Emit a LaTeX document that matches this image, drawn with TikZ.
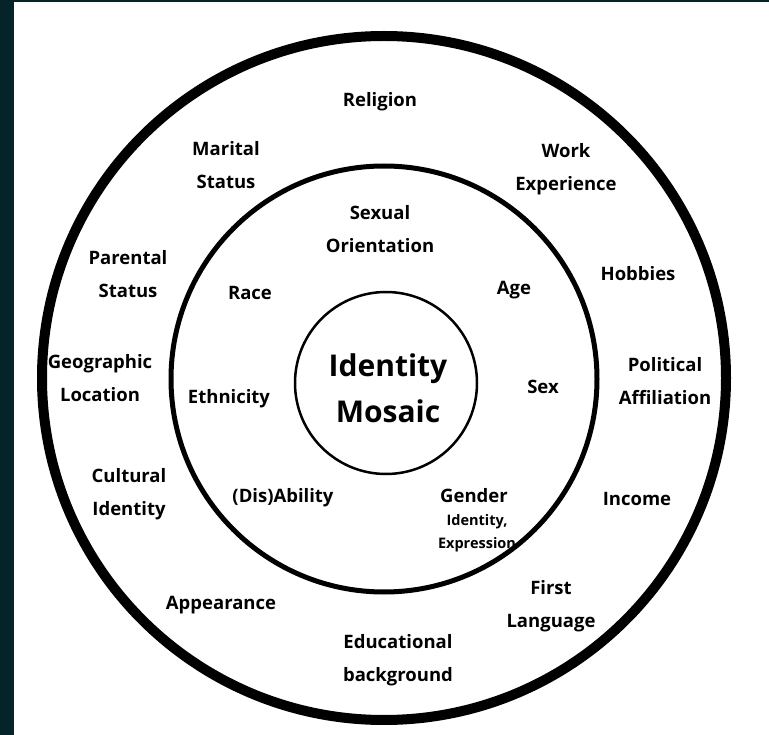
\documentclass[tikz,border=0pt]{standalone}
\usepackage{fontspec}
\setmainfont{Open Sans}
\definecolor{strip}{RGB}{4,36,42}
\begin{document}
\begin{tikzpicture}[x=1pt,y=-1pt,
  lbl/.style={align=center,font=\fontsize{18.5}{33}\selectfont\bfseries,inner sep=0pt},
  sml/.style={align=center,font=\fontsize{14.5}{23}\selectfont\bfseries,inner sep=0pt},
  big/.style={align=center,font=\fontsize{30}{46}\selectfont\bfseries,inner sep=0pt}]
\useasboundingbox (0,0) rectangle (769,735);
\fill[white] (0,0) rectangle (769,735);
\fill[strip] (0,0) rectangle (14,735);
\fill[strip] (0,0) rectangle (769,2);
% circles
\node[circle,draw,line width=10pt,minimum size=684pt,inner sep=0pt] (outer) at (384,378) {};
\node[circle,draw,line width=5pt,minimum size=426pt,inner sep=0pt] (middle) at (384,379) {};
\node[circle,draw,line width=2.5pt,minimum size=182pt,inner sep=0pt] (inner) at (386,383) {};
% centre
\node[big] (mosaic) at (388,388) {Identity\\Mosaic};
% middle ring
\node[lbl] (sexual) at (380,229) {Sexual\\Orientation};
\node[lbl] (race) at (250,293) {Race};
\node[lbl] (age) at (514,290) {Age};
\node[lbl] (ethnicity) at (229,399) {Ethnicity};
\node[lbl] (sex) at (543,387) {Sex};
\node[lbl] (disability) at (283,498) {(Dis)Ability};
\node[lbl] (gender) at (474,496) {Gender};
\node[sml] (genderid) at (477,533) {Identity,\\Expression};
% outer ring
\node[lbl] (religion) at (380,102) {Religion};
\node[lbl] (marital) at (226,165) {Marital\\Status};
\node[lbl] (work) at (566,169) {Work\\Experience};
\node[lbl] (parental) at (128,274) {Parental\\Status};
\node[lbl] (hobbies) at (638,274) {Hobbies};
\node[lbl] (geo) at (100,378) {Geographic\\Location};
\node[lbl] (political) at (665,381) {Political\\Affiliation};
\node[lbl] (cultural) at (129,494) {Cultural\\Identity};
\node[lbl] (income) at (637,499) {Income};
\node[lbl] (appearance) at (221,605) {Appearance};
\node[lbl] (language) at (551,606) {First\\Language};
\node[lbl] (education) at (398,660) {Educational\\background};
\end{tikzpicture}
\end{document}
